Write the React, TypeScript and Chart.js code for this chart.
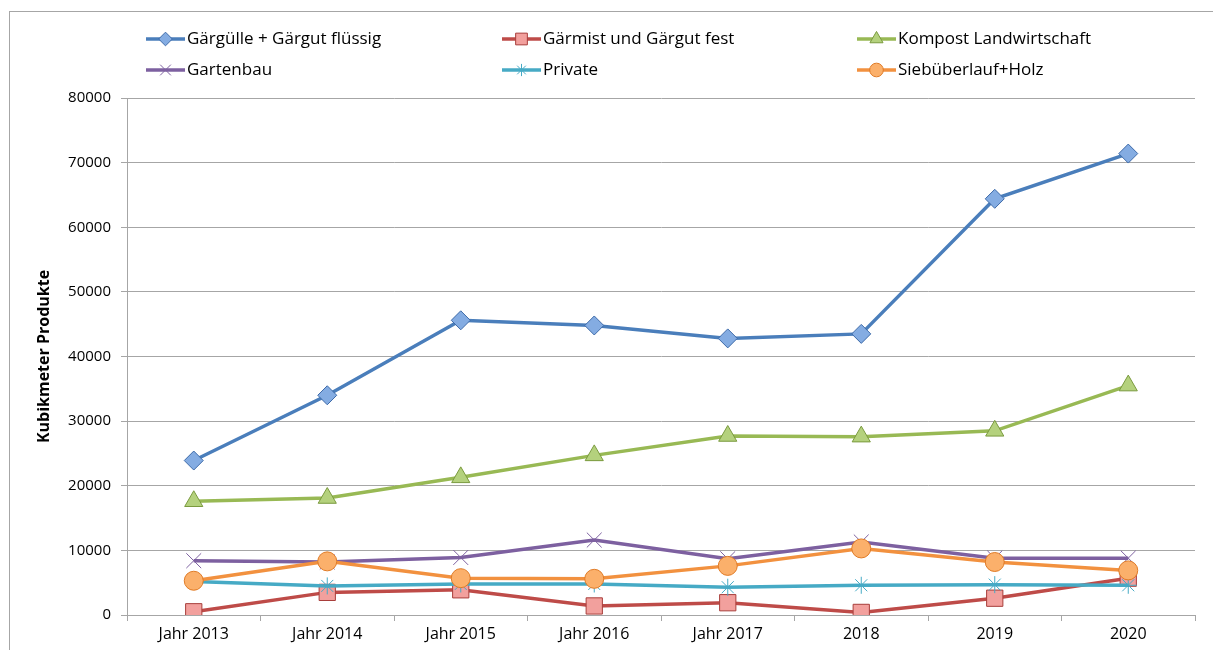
import React, { useEffect, useRef } from 'react';
import { Chart, registerables } from 'chart.js';
import { drawPoint } from 'chart.js/helpers';

Chart.register(...registerables);

const categories = ['Jahr 2013', 'Jahr 2014', 'Jahr 2015', 'Jahr 2016', 'Jahr 2017', '2018', '2019', '2020'];
const seriesNames = [
  'Gärgülle + Gärgut flüssig',
  'Gärmist und Gärgut fest',
  'Kompost Landwirtschaft',
  'Gartenbau',
  'Private',
  'Siebüberlauf+Holz',
];
const garguelle = [23900, 34000, 45600, 44800, 42800, 43500, 64400, 71400];
const garmist = [500, 3500, 3900, 1400, 1900, 400, 2600, 5700];
const kompost = [17600, 18100, 21300, 24700, 27700, 27600, 28500, 35500];
const gartenbau = [8400, 8200, 8900, 11600, 8700, 11300, 8800, 8800];
const privat = [5200, 4500, 4800, 4800, 4300, 4600, 4700, 4600];
const sieb = [5300, 8300, 5700, 5600, 7600, 10300, 8200, 6900];
const yTitle = 'Kubikmeter Produkte';

const FONT = "'Open Sans', sans-serif";
const GRID = '#a6a6a6';

const styles = [
  { line: '#4a7ebb', fill: '#84ace2', border: '#3d6aa8', point: 'rectRot', r: 9.5 },
  { line: '#be4b48', fill: '#f2a09d', border: '#a83e3b', point: 'rect', r: 11.5 },
  { line: '#98b954', fill: '#b4d17d', border: '#7a9a3e', point: 'triangle', r: 10.5 },
  { line: '#7d60a0', fill: 'rgba(0,0,0,0)', border: '#7d60a0', point: 'crossRot', r: 10.5 },
  { line: '#46aac5', fill: 'rgba(0,0,0,0)', border: '#46aac5', point: 'star', r: 8.5 },
  { line: '#f2913f', fill: '#fbb06b', border: '#e07b26', point: 'circle', r: 9.5 },
];

const legendCols = [146, 502, 857];
const legendRows = [39, 70];

const legendPlugin = {
  id: 'gridLegend',
  afterDraw(chart: any) {
    const ctx = chart.ctx;
    chart.data.datasets.forEach((ds: any, i: number) => {
      const st = styles[i];
      const x0 = legendCols[i % 3];
      const y = legendRows[Math.floor(i / 3)];
      ctx.save();
      ctx.strokeStyle = st.line;
      ctx.lineWidth = 3.5;
      ctx.beginPath();
      ctx.moveTo(x0, y);
      ctx.lineTo(x0 + 39, y);
      ctx.stroke();
      ctx.fillStyle = st.fill;
      ctx.strokeStyle = st.border;
      ctx.lineWidth = 1;
      drawPoint(ctx, { pointStyle: st.point, radius: st.r * 0.72, rotation: 0, borderWidth: 1 } as any, x0 + 19.5, y);
      ctx.fillStyle = '#000';
      ctx.font = `17px ${FONT}`;
      ctx.textBaseline = 'middle';
      ctx.textAlign = 'left';
      ctx.fillText(ds.label, x0 + 41, y);
      ctx.restore();
    });
  },
};

export default function App() {
  const ref = useRef<HTMLCanvasElement>(null);
  useEffect(() => {
    if (!ref.current) return;
    const values = [garguelle, garmist, kompost, gartenbau, privat, sieb];
    const chart = new Chart(ref.current, {
      type: 'line',
      data: {
        labels: categories,
        datasets: values.map((v, i) => ({
          label: seriesNames[i],
          data: v,
          borderColor: styles[i].line,
          backgroundColor: styles[i].fill,
          borderWidth: 3.5,
          tension: 0,
          pointStyle: styles[i].point as any,
          pointRadius: styles[i].r,
          pointHoverRadius: styles[i].r,
          pointBackgroundColor: styles[i].fill,
          pointBorderColor: styles[i].border,
          pointBorderWidth: 1,
          order: 5 - i,
        })),
      },
      options: {
        responsive: false,
        animation: false,
        devicePixelRatio: 1,
        layout: { padding: { top: 98, right: 18, bottom: 0, left: 0 } },
        plugins: { legend: { display: false }, tooltip: { enabled: false } },
        scales: {
          x: {
            type: 'category',
            offset: true,
            grid: { display: true, drawOnChartArea: false, drawTicks: true, tickLength: 6, color: GRID, offset: true },
            border: { display: true, color: GRID, width: 1 },
            ticks: { color: '#000', font: { family: FONT, size: 16 }, padding: 4, maxRotation: 0, autoSkip: false },
            afterFit: (s: any) => { s.height = 35; },
          },
          y: {
            min: 0,
            max: 80000,
            ticks: {
              stepSize: 10000,
              color: '#000',
              font: { family: FONT, size: 15 },
              padding: 10,
              callback: (v: any) => String(v),
            },
            grid: { color: GRID, tickLength: 6, lineWidth: 1 },
            border: { display: true, color: GRID, width: 1 },
            title: {
              display: true,
              text: yTitle,
              color: '#000',
              font: { family: FONT, size: 16, weight: 'bold' },
              padding: { top: 35, bottom: 0 },
            },
            afterFit: (s: any) => { s.width = 127; },
          },
        },
      },
      plugins: [legendPlugin],
    });
    return () => chart.destroy();
  }, []);
  return (
    <div style={{ position: 'fixed', left: 0, top: 0, width: 1213, height: 650, background: '#fff' }}>
      <canvas ref={ref} width={1213} height={650} style={{ position: 'absolute', left: 0, top: 0 }} />
      <div
        style={{
          position: 'absolute',
          left: 9,
          top: 11,
          width: 1204,
          height: 639,
          borderTop: '1.5px solid #a6a6a6',
          borderLeft: '1.5px solid #a6a6a6',
          pointerEvents: 'none',
          boxSizing: 'border-box',
        }}
      />
    </div>
  );
}
